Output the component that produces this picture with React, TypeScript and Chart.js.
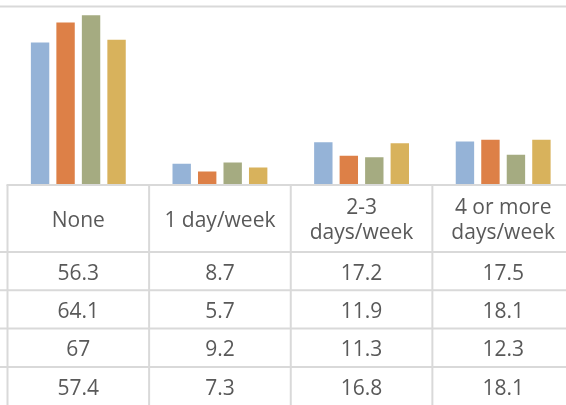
import React, { useEffect, useRef } from "react";
import { Chart, registerables } from "chart.js";

Chart.register(...registerables);

const categories: string[][] = [["None"], ["1 day/week"], ["2-3", "days/week"], ["4 or more", "days/week"]];
const seriesNames = ["Series 1", "Series 2", "Series 3", "Series 4"];
const series1 = [56.3, 8.7, 17.2, 17.5];
const series2 = [64.1, 5.7, 11.9, 18.1];
const series3 = [67, 9.2, 11.3, 12.3];
const series4 = [57.4, 7.3, 16.8, 18.1];
const seriesColors = ["#95B3D7", "#DD8047", "#A5AB81", "#D8B25C"];
const tableValues: string[][] = [
  ["56.3", "8.7", "17.2", "17.5"],
  ["64.1", "5.7", "11.9", "18.1"],
  ["67", "9.2", "11.3", "12.3"],
  ["57.4", "7.3", "16.8", "18.1"],
];
const yMax = 70;

const LINE = "#d9d9d9";
const TEXT = "#595959";
const FONT = "21px 'Open Sans'";

const tablePlugin = {
  id: "dataTable",
  beforeDatasetsDraw(chart: any) {
    const { ctx, scales, width } = chart;
    const y = scales.y.getPixelForValue(yMax);
    ctx.save();
    ctx.strokeStyle = LINE;
    ctx.lineWidth = 2;
    ctx.beginPath();
    ctx.moveTo(0, y);
    ctx.lineTo(width, y);
    ctx.stroke();
    ctx.restore();
  },
  afterDraw(chart: any) {
    const { ctx, chartArea, scales, width, height } = chart;
    const xs = scales.x;
    const n = categories.length;
    const colW = (chartArea.right - chartArea.left) / n;
    const axisY = chartArea.bottom;
    const headerH = 67;
    const rowH = 38.3;
    const textShift = 2.5;
    ctx.save();
    ctx.strokeStyle = LINE;
    ctx.lineWidth = 2;
    ctx.beginPath();
    ctx.moveTo(chartArea.left - 1, axisY);
    ctx.lineTo(width, axisY);
    ctx.stroke();
    for (let i = 0; i <= n; i++) {
      const x = chartArea.left + i * colW;
      ctx.beginPath();
      ctx.moveTo(x, axisY);
      ctx.lineTo(x, height);
      ctx.stroke();
    }
    for (let r = 0; r < tableValues.length; r++) {
      const y = axisY + headerH + r * rowH;
      ctx.beginPath();
      ctx.moveTo(0, y);
      ctx.lineTo(width, y);
      ctx.stroke();
    }
    ctx.fillStyle = TEXT;
    ctx.font = FONT;
    ctx.textAlign = "center";
    ctx.textBaseline = "middle";
    const lineGap = 25;
    categories.forEach((lines, i) => {
      const cx = xs.getPixelForValue(i);
      const cy = axisY + headerH / 2 + textShift;
      const start = cy - ((lines.length - 1) * lineGap) / 2;
      lines.forEach((t, k) => ctx.fillText(t, cx, start + k * lineGap));
    });
    tableValues.forEach((row, r) => {
      const cy = axisY + headerH + r * rowH + rowH / 2 + textShift;
      row.forEach((v, i) => {
        ctx.fillText(v, xs.getPixelForValue(i), cy);
      });
    });
    ctx.restore();
  },
};

export default function App() {
  const ref = useRef<HTMLCanvasElement | null>(null);
  useEffect(() => {
    if (!ref.current) return;
    const data = [series1, series2, series3, series4];
    const chart = new Chart(ref.current, {
      type: "bar",
      data: {
        labels: categories.map((c) => c.join(" ")),
        datasets: data.map((d, i) => ({
          label: seriesNames[i],
          data: d,
          backgroundColor: seriesColors[i],
          borderColor: "rgba(255,255,255,0.55)",
          borderWidth: 1,
          categoryPercentage: 0.72,
          barPercentage: 0.8,
        })),
      },
      options: {
        responsive: false,
        animation: false,
        layout: { padding: { left: 7.5, top: 6.5, right: 0, bottom: 220 } },
        plugins: { legend: { display: false }, tooltip: { enabled: false } },
        scales: {
          x: { display: false },
          y: { display: false, min: 0, max: yMax },
        },
      },
      plugins: [tablePlugin],
    });
    return () => chart.destroy();
  }, []);
  return (
    <div style={{ position: "fixed", left: 0, top: 0, width: 566, height: 405, overflow: "hidden", background: "#fff" }}>
      <canvas ref={ref} width={574} height={405} style={{ display: "block" }} />
    </div>
  );
}
